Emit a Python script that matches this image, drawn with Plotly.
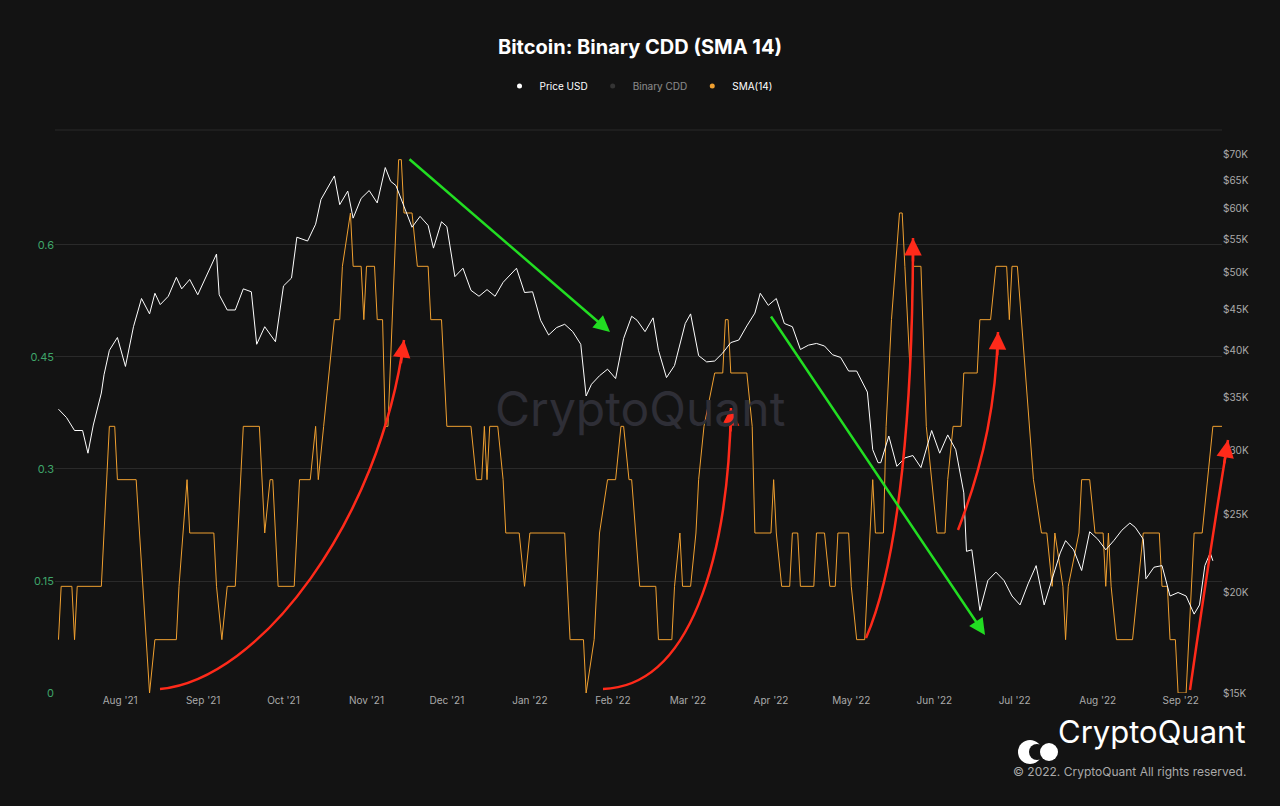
import pandas as pd
import plotly.graph_objects as go

BASE = pd.Timestamp("2021-08-01")

# SMA(14) vertices: (day offset from 2021-08-01, count of 14)
sma_days = [-23,-22,-18,-17,-16,-7,-4,-2,-1,6,11,13,21,22,25,26,35,36,38,40,43,46,52,53,54,56,57,59,65,67,71,73,74,76,80,82,83,86,87,90,91,92,95,96,98,99,100,104,105,106,109,111,115,116,120,122,131,133,135,136,137,138,141,143,144,149,151,153,166,168,173,174,177,179,182,185,187,
            188,190,191,194,200,201,206,207,209,210,213,215,216,218,222,225,226,227,228,234,236,237,243,244,245,247,250,251,253,254,259,260,263,265,267,268,272,273,275,278,279,281,282,285,286,288,291,292,293,295,296,299,301,303,305,308,309,311,314,315,320,321,325,327,331,332,333,335,338,341,344,346,348,349,352,353,354,358,359,362,364,367,368,369,370,372,378,380,382,388,389,391,392,394,395,398,399,401,404,406,408,412]
sma_counts = [1,2,2,1,2,2,5,5,4,4,0,1,1,2,4,3,3,2,1,2,2,5,5,4,3,4,4,2,2,4,4,5,4,5,7,7,8,9,8,8,7,8,8,7,7,5,5,10,10,9,9,8,8,7,7,5,5,4,4,5,4,5,5,4,3,3,2,3,3,1,1,0,1,3,4,4,5,
              5,4,4,2,2,1,1,2,3,2,2,3,4,5,6,6,7,7,6,6,5,3,3,4,3,2,2,3,3,2,2,3,3,2,2,3,3,2,1,1,2,4,3,3,5,7,9,9,8,6,8,8,5,4,3,3,4,5,5,6,6,7,7,8,8,7,8,8,6,4,3,3,2,3,2,1,2,3,4,4,3,3,2,3,2,1,1,2,3,3,2,2,1,1,0,0,1,3,3,4,5,5]
sma_values = [c / 14 for c in sma_counts]

price_dates = ["2021-07-09","2021-07-12","2021-07-15","2021-07-18","2021-07-20","2021-07-22","2021-07-25","2021-07-26","2021-07-28","2021-07-31",
  "2021-08-03","2021-08-06","2021-08-09","2021-08-12","2021-08-14","2021-08-16","2021-08-19","2021-08-22","2021-08-24","2021-08-27","2021-08-30",
  "2021-09-02","2021-09-06","2021-09-07","2021-09-10","2021-09-13","2021-09-16","2021-09-19","2021-09-21","2021-09-24","2021-09-28",
  "2021-10-01","2021-10-04","2021-10-06","2021-10-10","2021-10-13","2021-10-15","2021-10-20","2021-10-22","2021-10-25","2021-10-27","2021-10-30",
  "2021-11-02","2021-11-05","2021-11-08","2021-11-10","2021-11-12","2021-11-15","2021-11-18","2021-11-21","2021-11-24","2021-11-26","2021-11-29",
  "2021-12-01","2021-12-04","2021-12-07","2021-12-10","2021-12-13","2021-12-16","2021-12-19","2021-12-22","2021-12-27","2021-12-30",
  "2022-01-02","2022-01-05","2022-01-08","2022-01-11","2022-01-14","2022-01-17","2022-01-20","2022-01-22","2022-01-24","2022-01-27","2022-01-30",
  "2022-02-02","2022-02-05","2022-02-08","2022-02-10","2022-02-13","2022-02-16","2022-02-18","2022-02-21","2022-02-24","2022-02-28",
  "2022-03-02","2022-03-05","2022-03-08","2022-03-11","2022-03-14","2022-03-17","2022-03-20","2022-03-23","2022-03-26","2022-03-28","2022-03-31",
  "2022-04-03","2022-04-06","2022-04-09","2022-04-12","2022-04-15","2022-04-18","2022-04-21","2022-04-24","2022-04-27","2022-04-30",
  "2022-05-03","2022-05-05","2022-05-07","2022-05-09","2022-05-11","2022-05-12","2022-05-15","2022-05-18","2022-05-21","2022-05-24","2022-05-27","2022-05-31",
  "2022-06-03","2022-06-06","2022-06-09","2022-06-12","2022-06-13","2022-06-15","2022-06-18","2022-06-21","2022-06-24","2022-06-27","2022-06-30",
  "2022-07-03","2022-07-06","2022-07-09","2022-07-12","2022-07-15","2022-07-18","2022-07-20","2022-07-23","2022-07-26","2022-07-29",
  "2022-08-01","2022-08-04","2022-08-07","2022-08-10","2022-08-13","2022-08-15","2022-08-18","2022-08-19","2022-08-22","2022-08-25","2022-08-28","2022-08-31",
  "2022-09-03","2022-09-06","2022-09-08","2022-09-10","2022-09-12","2022-09-13"]
price_values = [33.8,33.0,31.8,31.8,29.8,32.3,35.4,37.3,40.0,41.5,
  38.2,42.8,46.4,44.4,47.1,45.6,46.7,49.3,47.7,49.0,46.9,
  49.3,52.7,46.9,44.9,44.9,47.7,47.3,40.7,42.8,41.0,
  48.1,49.2,55.3,54.7,57.4,61.6,65.9,60.7,63.1,58.4,61.8,
  63.2,61.0,67.5,64.9,64.1,60.4,56.9,58.7,57.2,53.6,57.8,
  57.0,49.4,50.6,47.5,46.7,47.6,46.7,48.6,50.6,47.2,
  47.3,43.6,41.8,42.7,43.1,42.2,40.7,35.1,36.3,37.2,37.9,
  36.9,41.4,44.1,43.6,42.2,43.9,40.0,37.0,38.3,43.2,
  44.4,39.4,38.7,38.8,39.7,40.9,41.2,42.9,44.5,47.1,45.5,
  46.4,43.2,42.8,40.1,40.6,40.8,40.5,39.5,39.2,37.7,
  37.7,36.6,35.5,30.1,29.0,29.0,31.3,28.7,29.4,29.6,28.6,31.8,
  29.8,31.4,30.1,26.6,22.5,22.6,19.0,20.7,21.2,20.7,19.8,
  19.3,20.5,21.6,19.3,20.8,22.4,23.2,22.6,21.3,23.8,
  23.3,22.6,23.2,23.9,24.4,24.1,23.3,20.8,21.5,21.6,19.8,20.0,
  19.8,18.8,19.3,21.6,22.4,21.9]
price_usd = [v * 1000 for v in price_values]

right_ticks = [15000,20000,25000,30000,35000,40000,45000,50000,55000,60000,65000,70000]
right_labels = ["$15K","$20K","$25K","$30K","$35K","$40K","$45K","$50K","$55K","$60K","$65K","$70K"]
left_ticks = [0, 0.15, 0.3, 0.45, 0.6]
left_labels = ["0", "0.15", "0.3", "0.45", "0.6"]

sma_dates = [BASE + pd.Timedelta(days=d) for d in sma_days]

BG = "#131313"
fig = go.Figure()
fig.add_trace(go.Scatter(x=price_dates, y=price_usd, name="Price USD", yaxis="y2", showlegend=False,
                         mode="lines", line=dict(color="#ffffff", width=1)))
fig.add_trace(go.Scatter(x=sma_dates, y=sma_values, name="SMA(14)", mode="lines", showlegend=False,
                         line=dict(color="#f0a030", width=1)))
# legend entries (dot markers)
for name, col, vis in [("Price USD", "#ffffff", True), ("Binary CDD", "#555555", "legendonly"), ("SMA(14)", "#f0a030", True)]:
    fig.add_trace(go.Scatter(x=[sma_dates[0]], y=[-1], name=name, mode="markers", visible=vis,
                             marker=dict(color=col, size=5, symbol="circle")))

L, R, T, B = 55, 1222, 130, 693
def px(x): return (x - L) / (R - L)
def py(y): return (B - y) / (B - T)

shapes = [dict(type="line", xref="paper", yref="paper", x0=0, x1=1, y0=1, y1=1,
               line=dict(color="#2a2a2a", width=1))]
red = "#ff2a1a"
curves = [((160,689),(260,680),(380,520),(404,340)),
          ((603,689),(690,686),(728,560),(731,408)),
          ((866,638),(900,560),(913,400),(913,238)),
          ((958,530),(985,460),(996,400),(998,332)),
          ((1190,690),(1200,620),(1215,520),(1228,440))]
annotations = []
for (a, b, c, d) in curves:
    path = "M %f %f C %f %f, %f %f, %f %f" % (px(a[0]), py(a[1]), px(b[0]), py(b[1]), px(c[0]), py(c[1]), px(d[0]), py(d[1]))
    shapes.append(dict(type="path", xref="paper", yref="paper", path=path, line=dict(color=red, width=2.5)))
    dx, dy = d[0] - c[0], d[1] - c[1]
    n = (dx*dx + dy*dy) ** 0.5
    annotations.append(dict(xref="paper", yref="paper", x=px(d[0]), y=py(d[1]), ax=-dx/n*25, ay=-dy/n*25,
                            text="", showarrow=True, arrowhead=2, arrowsize=1.4, arrowwidth=2.5, arrowcolor=red))
for (s, e) in [((408,158),(610,332)), ((770,315),(985,635))]:
    annotations.append(dict(xref="paper", yref="paper", x=px(e[0]), y=py(e[1]), ax=s[0]-e[0], ay=s[1]-e[1],
                            text="", showarrow=True, arrowhead=2, arrowsize=1.3, arrowwidth=2.5, arrowcolor="#22dd22"))
annotations += [
    dict(xref="paper", yref="paper", x=px(640), y=py(408), text="CryptoQuant", showarrow=False,
         font=dict(family="Inter, Lato, sans-serif", size=48, color="#2e2e36")),
    dict(xref="paper", yref="paper", x=px(1248), y=py(752), xanchor="right", text="CryptoQuant", showarrow=False,
         font=dict(family="Inter, Lato, sans-serif", size=31, color="#ffffff")),
    dict(xref="paper", yref="paper", x=px(1248), y=py(781), xanchor="right", text="© 2022. CryptoQuant All rights reserved.",
         showarrow=False, font=dict(family="Inter, Lato, sans-serif", size=12, color="#aaaaaa")),
]
shapes += [
    dict(type="circle", xref="paper", yref="paper", x0=px(1018), x1=px(1042), y0=py(764), y1=py(740),
         fillcolor="#ffffff", line=dict(width=0)),
    dict(type="circle", xref="paper", yref="paper", x0=px(1029), x1=px(1045), y0=py(760), y1=py(744),
         fillcolor=BG, line=dict(width=0)),
    dict(type="circle", xref="paper", yref="paper", x0=px(1040), x1=px(1058), y0=py(761), y1=py(743),
         fillcolor="#ffffff", line=dict(width=0)),
]

fig.update_layout(
    width=1280, height=806, paper_bgcolor=BG, plot_bgcolor=BG,
    margin=dict(l=L, r=1280-R, t=T, b=806-B),
    title=dict(text="<b>Bitcoin: Binary CDD (SMA 14)</b>", x=0.5, xanchor="center", y=0.95,
               font=dict(family="Inter, Lato, sans-serif", size=20, color="#ffffff")),
    font=dict(family="Inter, Lato, sans-serif", color="#aaaaaa"),
    legend=dict(orientation="h", x=0.5, xanchor="center", y=1.078, yanchor="middle",
                font=dict(size=10, color="#ffffff"), bgcolor="rgba(0,0,0,0)", itemclick=False),
    showlegend=True,
    xaxis=dict(type="date", range=[BASE + pd.Timedelta(days=-24.3), BASE + pd.Timedelta(days=411.4)],
               tickformat="%b '%y", dtick="M1", showgrid=False, zeroline=False, showline=False,
               tickfont=dict(size=10, color="#aaaaaa"), ticks=""),
    yaxis=dict(range=[0, 0.754], tickvals=left_ticks, ticktext=left_labels, gridcolor="#2a2a2a",
               zeroline=False, tickfont=dict(size=11, color="#3fa56a"), ticks=""),
    yaxis2=dict(type="log", overlaying="y", side="right", range=[4.17609, 4.876],
                tickvals=right_ticks, ticktext=right_labels, showgrid=False, zeroline=False,
                tickfont=dict(size=10, color="#aaaaaa"), ticks=""),
    shapes=shapes, annotations=annotations,
)
fig.write_html("out.html", config={"displayModeBar": False},
               post_script="document.body.style.margin='0';document.body.style.background='#131313';")
